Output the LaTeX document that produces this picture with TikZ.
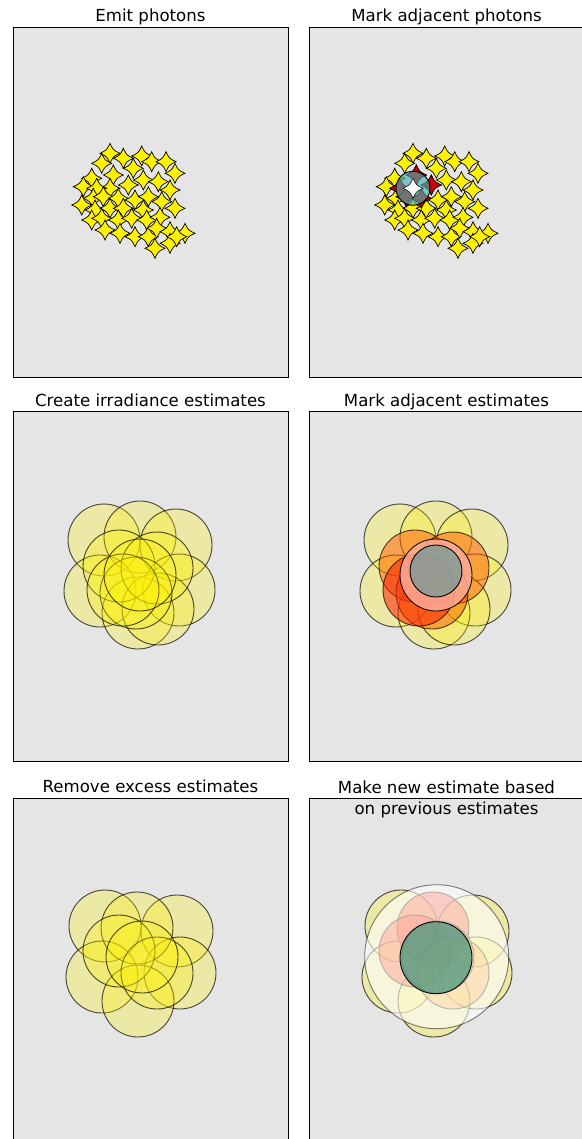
\documentclass[tikz,border=0pt]{standalone}
\usepackage{fontspec}
\setmainfont{DejaVu Sans}
\usetikzlibrary{positioning}

\definecolor{axbg}{HTML}{E5E5E5}
\definecolor{markteal}{HTML}{4AAEAE}
\definecolor{newteal}{HTML}{2F8F78}
\definecolor{nbrorange}{HTML}{FF5A00}
\definecolor{pickred}{HTML}{FF1E00}
\definecolor{salmon}{HTML}{FFAA98}

% photon positions (first panel, px)
\def\photons{110/153.3, 123.3/158.3, 141.7/156, 151.7/161.7, 166/161.7,
  101.7/163.3, 133.3/168.3, 113.3/175, 175/173.3, 91.7/178.3, 83.3/186.7,
  128.3/185, 143.3/180, 158.3/181.7, 170/190, 110/188.3, 96.7/188.3,
  93.3/198.3, 103.3/196.7, 118.3/198.3, 135/200, 148.3/196.7, 161.7/201.7,
  175/208.3, 81.7/205, 95/210, 110/208.3, 123.3/208.3, 143.3/210, 91.7/220,
  101.7/218.3, 118.3/220, 131.7/218.3, 146.7/220, 160/217.3, 105/230,
  120/233.3, 135/236.7, 148.3/236.7, 156.7/228.3, 170/231.7, 185/233.3,
  155/248.3, 170/243.3, 176.7/236.7}
\def\nearphotons{113.3/175, 128.3/185, 96.7/188.3, 103.3/196.7, 118.3/198.3}

% irradiance estimates (third panel, px)
\def\estouter{104/540, 140/537, 176/545, 100/591, 179/590, 138/613, 158/609}
\def\estnbr{119/566, 157/568, 136/593}
\def\estred{123/590}
\def\estpick{140/575}

% kept estimates (fifth panel, px)
\def\keptyellow{105/926, 177/931, 102/977, 180/973, 138/1001}
\def\keptred{137/928, 119/951}
\def\keptorange{157/973, 142/957}

\begin{document}
\begin{tikzpicture}[x=1pt, y=-1pt,
  every node/.style={font=\fontsize{16.6}{21}\selectfont},
  panel/.style={rectangle, draw=black, fill=axbg, line width=0.9pt,
                minimum width=275pt, minimum height=350pt, inner sep=0pt},
  ttl/.style={anchor=base, inner sep=0pt, align=center},
  photon/.pic={\path[pic actions] (0,-10) .. controls (3.2,-3.2) .. (10,0)
      .. controls (3.2,3.2) .. (0,10) .. controls (-3.2,3.2) .. (-10,0)
      .. controls (-3.2,-3.2) .. (0,-10) -- cycle;},
  ystar/.style={fill=yellow, draw=black, line width=0.7pt},
  rstar/.style={fill=red!80!black, draw=black, line width=0.7pt},
  wstar/.style={fill=white, draw=black, line width=0.5pt},
  marker/.style={circle, draw=black, fill=markteal, fill opacity=0.65,
                 line width=0.9pt, inner sep=0pt},
  est/.style={fill=yellow, fill opacity=0.28, draw=black, draw opacity=0.7,
              line width=0.9pt},
  nbr/.style={est, fill=nbrorange, fill opacity=0.5},
  redest/.style={est, fill=pickred, fill opacity=0.55},
  pick/.style={est, fill=salmon, fill opacity=0.85, draw opacity=0.9},
  wide/.style={fill=white, fill opacity=0.6, draw=black, draw opacity=0.5,
               line width=0.9pt},
]
\fill[white] (0,0) rectangle (581,1139);
\useasboundingbox (0,0) rectangle (581,1139);

% panels and titles
\node[panel] (p1) at (150.5,202) {};
\node[panel] (p2) at (446.5,202) {};
\node[panel] (p3) at (150.5,586.5) {};
\node[panel] (p4) at (446.5,586.5) {};
\node[panel] (p5) at (150.5,973) {};
\node[panel] (p6) at (446.5,973) {};
\node[above=5pt of p1, ttl] (t1) {Emit photons};
\node[above=5pt of p2, ttl] (t2) {Mark adjacent photons};
\node[above=5pt of p3, ttl] (t3) {Create irradiance estimates};
\node[above=5pt of p4, ttl] (t4) {Mark adjacent estimates};
\node[above=5pt of p5, ttl] (t5) {Remove excess estimates};
\node[above=5pt of p6, ttl, yshift=-22pt] (t6) {Make new estimate based\\on previous estimates};

% emitted photons
\foreach \px/\py in \photons
  \pic[ystar] at (\px,\py) {photon};

% adjacent photons
\begin{scope}[xshift=303pt]
  \foreach \px/\py in \photons
    \pic[ystar] at (\px,\py) {photon};
  \foreach \px/\py in \nearphotons
    \pic[rstar] at (\px,\py) {photon};
  \node[marker, minimum size=34pt] (m2) at (110,188.3) {};
  \pic[wstar] at (110,188.3) {photon};
\end{scope}

% irradiance estimates
\foreach \cx/\cy in \estouter
  \path[est] (\cx,\cy) circle[radius=36];
\foreach \cx/\cy in \estnbr
  \path[est] (\cx,\cy) circle[radius=36];
\foreach \cx/\cy in \estred
  \path[est] (\cx,\cy) circle[radius=36];
\foreach \cx/\cy in \estpick
  \path[est] (\cx,\cy) circle[radius=36];

% adjacent estimates
\begin{scope}[xshift=296pt]
  \foreach \cx/\cy in \estouter
    \path[est] (\cx,\cy) circle[radius=36];
  \foreach \cx/\cy in \estnbr
    \path[nbr] (\cx,\cy) circle[radius=36];
  \foreach \cx/\cy in \estred
    \path[redest] (\cx,\cy) circle[radius=36];
  \foreach \cx/\cy in \estpick
    \path[pick] (\cx,\cy) circle[radius=36];
  \node[marker, minimum size=52pt, fill=markteal!60!gray] (m4) at (140,571) {};
\end{scope}

% remaining estimates
\foreach \cx/\cy in \keptyellow
  \path[est] (\cx,\cy) circle[radius=36];
\foreach \cx/\cy in \keptred
  \path[est] (\cx,\cy) circle[radius=36];
\foreach \cx/\cy in \keptorange
  \path[est] (\cx,\cy) circle[radius=36];

% new estimate
\begin{scope}[xshift=296pt]
  \foreach \cx/\cy in \keptyellow
    \path[est] (\cx,\cy) circle[radius=36];
  \foreach \cx/\cy in \keptred
    \path[redest, fill opacity=0.5] (\cx,\cy) circle[radius=36];
  \foreach \cx/\cy in \keptorange
    \path[nbr, fill=orange, fill opacity=0.4] (\cx,\cy) circle[radius=36];
  \path[wide] (140.7,956.7) circle[radius=72];
  \node[marker, minimum size=72pt, fill=newteal] (m6) at (140,957.7) {};
\end{scope}
\end{tikzpicture}
\end{document}
